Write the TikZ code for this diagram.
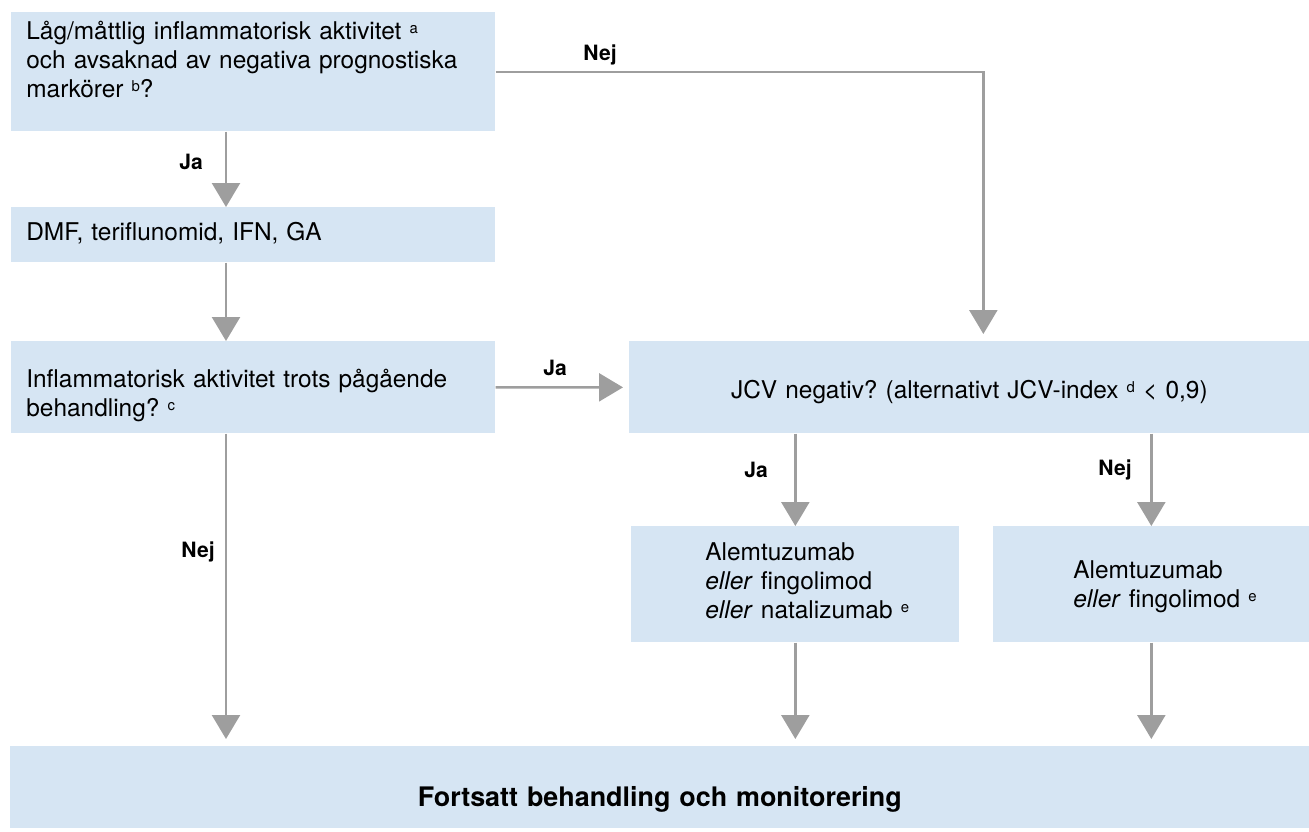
\documentclass[tikz,border=0pt]{standalone}
\usepackage{fontspec}
\setmainfont{TeX Gyre Heros}
\usetikzlibrary{positioning,arrows.meta}
\definecolor{boxblue}{RGB}{214,229,243}
\definecolor{arrowgray}{RGB}{158,158,158}
\newcommand{\fnote}[1]{\raisebox{3.5pt}{\fontsize{8.5}{8.5}\selectfont #1}}
\newcommand{\altlines}[2]{\hspace*{#1}\begin{tabular}[t]{@{}l@{}}#2\end{tabular}}
\frenchspacing

\begin{document}
\begin{tikzpicture}[font=\fontsize{13.9}{16.5}\selectfont,
  box/.style={fill=boxblue, anchor=north west, align=left, inner xsep=0.3cm, inner ysep=0pt, text width=#1},
  arr/.style={draw=arrowgray, line width=1.4pt, -{Triangle[width=0.56cm,length=0.48cm]}},
  lab/.style={font=\fontsize{12}{14}\selectfont\bfseries}]
\useasboundingbox (0,0) rectangle (26.18,-16.62);
% left column
\node[box=9.08cm, text height=0.54cm, text depth=1.84cm] (q1) at (0.22,-0.24) {Låg/måttlig inflammatorisk aktivitet \fnote{a}\\ och avsaknad av negativa prognostiska\\ markörer \fnote{b}?};
\node[box=9.08cm, text height=0.66cm, text depth=0.44cm] (dmf) at (0.22,-4.14) {DMF, teriflunomid, IFN, GA};
\node[box=9.08cm, text height=0.92cm, text depth=0.92cm] (q2) at (0.22,-6.82) {Inflammatorisk aktivitet trots pågående\\ behandling? \fnote{c}};
% right column
\node[box=13.0cm, align=center, text height=1.14cm, text depth=0.70cm] (jcv) at (12.58,-6.82) {JCV negativ? (alternativt JCV-index \fnote{d} < 0,9)};
\node[box=5.96cm, text height=0.68cm, text depth=1.64cm] (alt1) at (12.62,-10.52) {\altlines{1.18cm}{Alemtuzumab\\ \textit{eller} fingolimod\\ \textit{eller} natalizumab \fnote{e}}};
\node[box=5.72cm, text height=1.04cm, text depth=1.28cm] (alt2) at (19.86,-10.52) {\altlines{1.3cm}{Alemtuzumab\\ \textit{eller} fingolimod \fnote{e}}};
\node[box=25.38cm, align=center, text height=1.2cm, text depth=0.44cm, font=\fontsize{15.3}{18}\selectfont\bfseries] (fin) at (0.2,-14.92) {Fortsatt behandling och monitorering};
% connectors
\draw[arr] (q1.east) -| ([xshift=0.28cm,yshift=0.14cm]jcv.north);
\draw[arr] ([xshift=4.3cm]q1.south west) -- ([xshift=4.3cm]dmf.north west);
\draw[arr] ([xshift=4.3cm]dmf.south west) -- ([xshift=4.3cm]q2.north west);
\draw[arr, shorten >=0.12cm] (q2.east) -- (jcv.west);
\draw[arr] (alt1.north |- jcv.south) -- (alt1.north);
\draw[arr] (alt2.north |- jcv.south) -- (alt2.north);
\draw[arr, shorten >=0.14cm] ([xshift=4.3cm]q2.south west) -- ([xshift=4.32cm]fin.north west);
\draw[arr, shorten >=0.14cm] (alt1.south) -- (alt1.south |- fin.north);
\draw[arr, shorten >=0.14cm] (alt2.south) -- (alt2.south |- fin.north);
% labels
\node[lab] (nej1) at (12.0,-1.1) {Nej};
\node[lab] (ja1) at (3.82,-3.24) {Ja};
\node[lab] (ja2) at (11.1,-7.36) {Ja};
\node[lab] (nej2) at (3.96,-11.04) {Nej};
\node[lab] (ja3) at (15.12,-9.4) {Ja};
\node[lab] (nej3) at (22.3,-9.4) {Nej};
\end{tikzpicture}
\end{document}
